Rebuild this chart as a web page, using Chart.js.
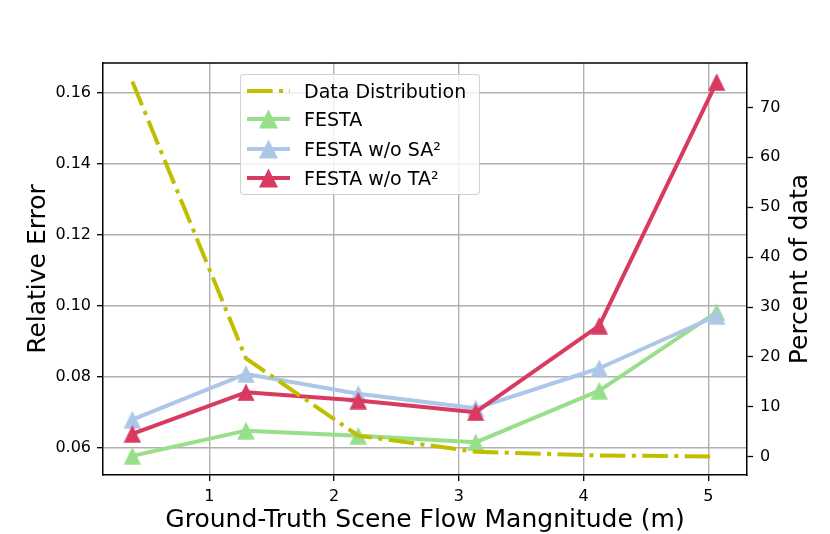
<!DOCTYPE html>
<html>
<head>
<meta charset="utf-8">
<script src="https://cdn.jsdelivr.net/npm/chart.js@4.4.1/dist/chart.umd.min.js"></script>
<style>
  html, body { margin: 0; padding: 0; background: #fff; }
  #wrap { position: relative; width: 830px; height: 534px; font-family: "DejaVu Sans", sans-serif; }
  #c { position: absolute; left: 0; top: 0; }
  #legend { position: absolute; left: 240px; top: 74px; width: 238px; height: 119px;
    border: 1px solid rgba(204,204,204,0.9); border-radius: 4px; background: rgba(255,255,255,0.8); }
  .row { position: absolute; left: 0; height: 28px; width: 238px; }
  .row svg { position: absolute; left: 5px; top: 0; }
  .row span { position: absolute; left: 63px; top: 0; line-height: 28px; font-size: 19px; color: #000; white-space: nowrap; }
</style>
</head>
<body>
<div id="wrap">
  <canvas id="c" width="830" height="534"></canvas>
  <div id="legend"></div>
</div>
<script>
// ---- data ----
const xValues = [0.383, 1.294, 2.194, 3.135, 4.126, 5.067];
const festa   = [0.0577, 0.0648, 0.0634, 0.0615, 0.0761, 0.0982];
const woSA    = [0.0679, 0.0808, 0.0752, 0.0711, 0.0824, 0.0972];
const woTA    = [0.0639, 0.0756, 0.0733, 0.0700, 0.0944, 0.1631];
const dataDist = [75.2, 19.7, 4.2, 1.0, 0.25, 0.05];
const xTicks  = [1, 2, 3, 4, 5];
const yTicks  = [0.06, 0.08, 0.10, 0.12, 0.14, 0.16];
const y2Ticks = [0, 10, 20, 30, 40, 50, 60, 70];
const seriesNames = ['Data Distribution', 'FESTA', 'FESTA w/o SA\u00b2', 'FESTA w/o TA\u00b2'];
const xTitle = 'Ground-Truth Scene Flow Mangnitude (m)';
const yTitle = 'Relative Error';
const y2Title = 'Percent of data';

const COL_Y = '#bfbf00', COL_G = '#98df8a', COL_B = '#aec7e8', COL_R = '#d83a60';
const DASHDOT = [25.6, 6.4, 4, 6.4];
const LW = 4;

function triangle(color, size) {
  const c = document.createElement('canvas');
  c.width = size; c.height = size;
  const g = c.getContext('2d');
  g.fillStyle = color;
  g.beginPath();
  g.moveTo(size / 2, 0.3);
  g.lineTo(size - 0.3, size - 0.3);
  g.lineTo(0.3, size - 0.3);
  g.closePath();
  g.fill();
  return c;
}
const pts = (ys) => xValues.map((x, i) => ({ x: x, y: ys[i] }));

function lineDs(label, ys, color, order) {
  return {
    label, data: pts(ys), yAxisID: 'y', borderColor: color, backgroundColor: color,
    borderWidth: LW, tension: 0, pointStyle: triangle(color, 18), pointRadius: 9,
    order, borderCapStyle: 'round', borderJoinStyle: 'round'
  };
}

const font16 = { family: 'DejaVu Sans', size: 16 };
const gridCol = '#b0b0b0';

const titles = {
  id: 'titles',
  afterDraw(chart) {
    const { ctx, chartArea: a } = chart;
    ctx.save();
    ctx.strokeStyle = '#000'; ctx.lineWidth = 1.5;
    ctx.beginPath(); ctx.moveTo(a.left - 0.75, a.top); ctx.lineTo(a.right + 0.75, a.top); ctx.stroke();
    ctx.fillStyle = '#000';
    ctx.font = '25px "DejaVu Sans"';
    ctx.textAlign = 'center'; ctx.textBaseline = 'alphabetic';
    ctx.fillText(xTitle, (a.left + a.right) / 2, 527);
    const cy = (a.top + a.bottom) / 2;
    ctx.save(); ctx.translate(45, cy); ctx.rotate(-Math.PI / 2); ctx.fillText(yTitle, 0, 0); ctx.restore();
    ctx.save(); ctx.translate(806.5, cy); ctx.rotate(-Math.PI / 2); ctx.fillText(y2Title, 0, 0); ctx.restore();
    ctx.restore();
  }
};

new Chart(document.getElementById('c'), {
  type: 'line',
  data: {
    datasets: [
      lineDs(seriesNames[1], festa, COL_G, 3),
      lineDs(seriesNames[2], woSA, COL_B, 2),
      lineDs(seriesNames[3], woTA, COL_R, 1),
      {
        label: seriesNames[0], data: pts(dataDist), yAxisID: 'y2', borderColor: COL_Y,
        backgroundColor: COL_Y, borderWidth: LW, borderDash: DASHDOT, tension: 0,
        pointRadius: 0, order: 0, borderCapStyle: 'butt'
      }
    ]
  },
  options: {
    responsive: false, animation: false, devicePixelRatio: 1,
    layout: { padding: { top: 63, left: 0, right: 0, bottom: 0 } },
    plugins: { legend: { display: false }, tooltip: { enabled: false } },
    scales: {
      x: {
        type: 'linear', position: 'bottom', min: 0.148, max: 5.31,
        afterBuildTicks: (s) => { s.ticks = xTicks.map(v => ({ value: v })); },
        afterFit: (s) => { s.height = 59; },
        ticks: { color: '#000', font: font16, padding: 6, maxRotation: 0, callback: (v) => String(v) },
        grid: { color: gridCol, lineWidth: 1.4, tickColor: '#000', tickLength: 6, tickWidth: 1.3 },
        border: { display: true, color: '#000', width: 1.5 }
      },
      y: {
        type: 'linear', position: 'left', min: 0.0523, max: 0.16846,
        afterBuildTicks: (s) => { s.ticks = yTicks.map(v => ({ value: v })); },
        afterFit: (s) => { s.width = 103; },
        ticks: { color: '#000', font: font16, padding: 6, callback: (v) => Number(v).toFixed(2) },
        grid: { color: gridCol, lineWidth: 1.4, tickColor: '#000', tickLength: 6, tickWidth: 1.3 },
        border: { display: true, color: '#000', width: 1.5 }
      },
      y2: {
        type: 'linear', position: 'right', min: -3.67, max: 78.905,
        afterBuildTicks: (s) => { s.ticks = y2Ticks.map(v => ({ value: v })); },
        afterFit: (s) => { s.width = 83; },
        ticks: { color: '#000', font: font16, padding: 7, callback: (v) => String(v) },
        grid: { drawOnChartArea: false, tickColor: '#000', tickLength: 6, tickWidth: 1.3 },
        border: { display: true, color: '#000', width: 1.5 }
      }
    }
  },
  plugins: [titles]
});

// ---- legend ----
const legend = document.getElementById('legend');
const legendItems = [
  { name: seriesNames[0], color: COL_Y, dash: true },
  { name: seriesNames[1], color: COL_G },
  { name: seriesNames[2], color: COL_B },
  { name: seriesNames[3], color: COL_R }
];
const rowTops = [2, 30.3, 60.3, 88.7];
legendItems.forEach((it, i) => {
  const row = document.createElement('div');
  row.className = 'row';
  row.style.top = rowTops[i] + 'px';
  let svg = '<svg width="46" height="28" viewBox="0 0 46 28">';
  if (it.dash) {
    svg += '<line x1="1" y1="14" x2="44" y2="14" stroke="' + it.color + '" stroke-width="4" stroke-dasharray="' + DASHDOT.join(' ') + '"/>';
  } else {
    svg += '<line x1="1" y1="14" x2="44" y2="14" stroke="' + it.color + '" stroke-width="4"/>';
    svg += '<polygon points="22.5,4.5 32,23.5 13,23.5" fill="' + it.color + '"/>';
  }
  svg += '</svg>';
  row.innerHTML = svg + '<span>' + it.name + '</span>';
  legend.appendChild(row);
});
</script>
</body>
</html>
